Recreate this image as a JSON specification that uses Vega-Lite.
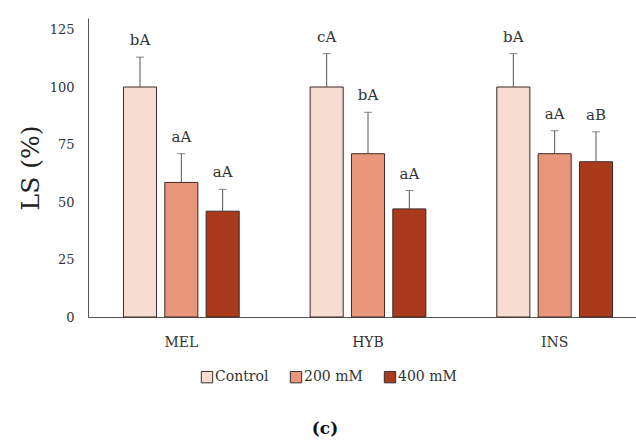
{
  "$schema": "https://vega.github.io/schema/vega-lite/v6.json",
  "width": 548,
  "height": 299,
  "autosize": "none",
  "padding": {"left": 88, "top": 18, "right": 0, "bottom": 125},
  "background": "white",
  "title": {"text": "(c)", "orient": "bottom", "anchor": "middle", "dx": -37, "offset": 36, "font": "DejaVu Serif", "fontSize": 17, "fontWeight": "bold", "color": "#111111"},
  "config": {
    "view": {"stroke": null},
    "font": "DejaVu Serif",
    "axis": {"grid": false, "ticks": false, "domainColor": "#555555", "labelColor": "#333333", "labelFont": "DejaVu Serif", "labelFontSize": 13}
  },
  "data": {"values": [
    {"group": "MEL", "treatment": "Control", "value": 100, "hi": 113, "label": "bA"},
    {"group": "MEL", "treatment": "200 mM", "value": 58.5, "hi": 71, "label": "aA"},
    {"group": "MEL", "treatment": "400 mM", "value": 46, "hi": 55.5, "label": "aA"},
    {"group": "HYB", "treatment": "Control", "value": 100, "hi": 114.5, "label": "cA"},
    {"group": "HYB", "treatment": "200 mM", "value": 71, "hi": 89, "label": "bA"},
    {"group": "HYB", "treatment": "400 mM", "value": 47, "hi": 55, "label": "aA"},
    {"group": "INS", "treatment": "Control", "value": 100, "hi": 114.5, "label": "bA"},
    {"group": "INS", "treatment": "200 mM", "value": 71, "hi": 81, "label": "aA"},
    {"group": "INS", "treatment": "400 mM", "value": 67.5, "hi": 80.5, "label": "aB"}
  ]},
  "encoding": {
    "x": {"field": "group", "type": "nominal", "sort": ["MEL", "HYB", "INS"],
      "scale": {"range": [0, 560], "paddingInner": 0.38, "paddingOuter": 0.19},
      "axis": {"title": null, "labelAngle": 0, "labelPadding": 18, "labelFontSize": 14}},
    "xOffset": {"field": "treatment", "type": "nominal", "sort": ["Control", "200 mM", "400 mM"],
      "scale": {"paddingInner": 0.2, "paddingOuter": 0}}
  },
  "layer": [
    {
      "mark": {"type": "bar", "stroke": "#3a2a26", "strokeWidth": 1},
      "encoding": {
        "y": {"field": "value", "type": "quantitative",
          "scale": {"domain": [0, 125]},
          "axis": {"title": "LS (%)", "titleFont": "DejaVu Serif", "titleFontSize": 25, "titleFontWeight": "normal", "titleColor": "#222222", "titlePadding": 6, "values": [0, 25, 50, 75, 100, 125], "labelPadding": 14, "labelFontSize": 13}},
        "color": {"field": "treatment", "type": "nominal", "sort": ["Control", "200 mM", "400 mM"],
          "scale": {"domain": ["Control", "200 mM", "400 mM"], "range": ["#F7DCD2", "#E9967A", "#A93B1C"]},
          "legend": {"title": null, "orient": "none", "legendX": 112, "legendY": 352, "direction": "horizontal",
            "symbolType": "square", "symbolSize": 130, "symbolStrokeColor": "#333333", "symbolStrokeWidth": 1,
            "labelFont": "DejaVu Serif", "labelFontSize": 14, "labelColor": "#333333", "labelOffset": 1, "columnPadding": 19}}
      }
    },
    {
      "mark": {"type": "rule", "color": "#555555", "strokeWidth": 1},
      "encoding": {
        "y": {"field": "value", "type": "quantitative"},
        "y2": {"field": "hi"}
      }
    },
    {
      "mark": {"type": "tick", "color": "#555555", "size": 8, "thickness": 1},
      "encoding": {
        "y": {"field": "hi", "type": "quantitative"}
      }
    },
    {
      "mark": {"type": "text", "dy": -12, "baseline": "alphabetic", "font": "DejaVu Serif", "fontSize": 15, "color": "#333333"},
      "encoding": {
        "y": {"field": "hi", "type": "quantitative"},
        "text": {"field": "label"}
      }
    }
  ]
}
